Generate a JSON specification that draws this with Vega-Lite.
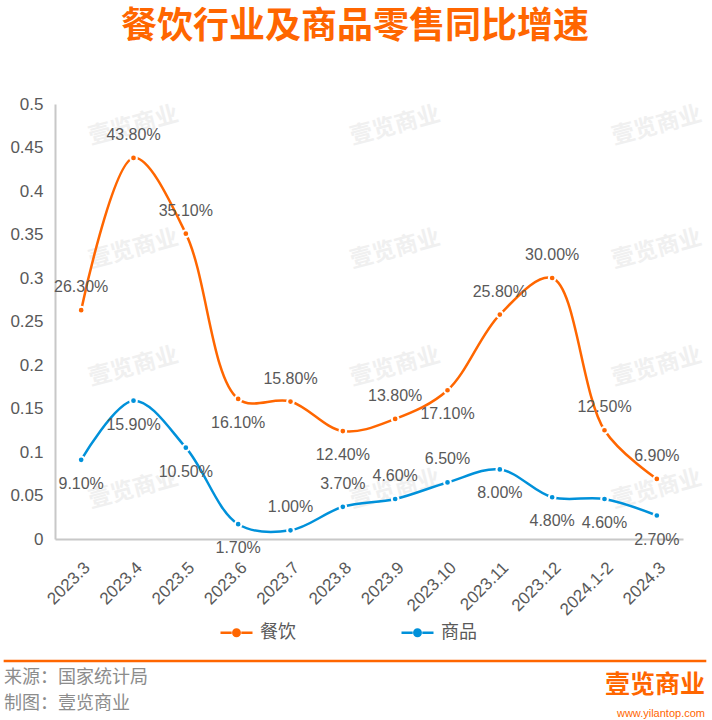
{
  "$schema": "https://vega.github.io/schema/vega-lite/v6.json",
  "background": "white",
  "padding": {"left": 2, "top": 9, "right": 4, "bottom": 0},
  "title": {"text": "餐饮行业及商品零售同比增速", "fontSize": 36, "fontWeight": "bold", "font": "Noto Sans CJK SC", "color": "#FF6600", "anchor": "middle", "offset": 49},
  "config": {"view": {"stroke": null}, "font": "Liberation Sans"},
  "spacing": 41,
  "datasets": {
    "sales": [
      {"month": "2023.3", "series": "餐饮", "value": 0.263},
      {"month": "2023.4", "series": "餐饮", "value": 0.438},
      {"month": "2023.5", "series": "餐饮", "value": 0.351},
      {"month": "2023.6", "series": "餐饮", "value": 0.161},
      {"month": "2023.7", "series": "餐饮", "value": 0.158},
      {"month": "2023.8", "series": "餐饮", "value": 0.124},
      {"month": "2023.9", "series": "餐饮", "value": 0.138},
      {"month": "2023.10", "series": "餐饮", "value": 0.171},
      {"month": "2023.11", "series": "餐饮", "value": 0.258},
      {"month": "2023.12", "series": "餐饮", "value": 0.300},
      {"month": "2024.1-2", "series": "餐饮", "value": 0.125},
      {"month": "2024.3", "series": "餐饮", "value": 0.069},
      {"month": "2023.3", "series": "商品", "value": 0.091},
      {"month": "2023.4", "series": "商品", "value": 0.159},
      {"month": "2023.5", "series": "商品", "value": 0.105},
      {"month": "2023.6", "series": "商品", "value": 0.017},
      {"month": "2023.7", "series": "商品", "value": 0.010},
      {"month": "2023.8", "series": "商品", "value": 0.037},
      {"month": "2023.9", "series": "商品", "value": 0.046},
      {"month": "2023.10", "series": "商品", "value": 0.065},
      {"month": "2023.11", "series": "商品", "value": 0.080},
      {"month": "2023.12", "series": "商品", "value": 0.048},
      {"month": "2024.1-2", "series": "商品", "value": 0.046},
      {"month": "2024.3", "series": "商品", "value": 0.027}
    ],
    "watermarks": [
      {"month": "2023.4", "value": 0.475}, {"month": "2023.9", "value": 0.475}, {"month": "2024.3", "value": 0.475},
      {"month": "2023.4", "value": 0.333}, {"month": "2023.9", "value": 0.333}, {"month": "2024.3", "value": 0.333},
      {"month": "2023.4", "value": 0.198}, {"month": "2023.9", "value": 0.198}, {"month": "2024.3", "value": 0.198},
      {"month": "2023.4", "value": 0.057}, {"month": "2023.9", "value": 0.057}, {"month": "2024.3", "value": 0.057}
    ]
  },
  "vconcat": [
    {
      "width": 628,
      "height": 435,
      "encoding": {
        "x": {
          "field": "month", "type": "ordinal",
          "scale": {"domain": ["2023.3","2023.4","2023.5","2023.6","2023.7","2023.8","2023.9","2023.10","2023.11","2023.12","2024.1-2","2024.3"]},
          "axis": {"title": null, "labelAngle": -45, "labelFontSize": 17, "labelColor": "#595959", "labelPadding": 20, "ticks": false, "domainColor": "#c8c8c8", "domainWidth": 2, "grid": false}
        },
        "y": {
          "field": "value", "type": "quantitative",
          "scale": {"domain": [0, 0.5], "nice": false},
          "axis": {"title": null, "values": [0, 0.05, 0.1, 0.15, 0.2, 0.25, 0.3, 0.35, 0.4, 0.45, 0.5], "format": "~g", "labelFontSize": 17, "labelColor": "#595959", "labelPadding": 12, "ticks": false, "domainColor": "#c8c8c8", "domainWidth": 2, "grid": false}
        }
      },
      "layer": [
        {
          "data": {"name": "watermarks"},
          "mark": {"type": "text", "angle": -15, "fontSize": 23, "fontWeight": "bold", "font": "Noto Sans CJK SC", "color": "#f0f0f0"},
          "encoding": {"text": {"value": "壹览商业"}}
        },
        {
          "data": {"name": "sales"},
          "mark": {"type": "line", "interpolate": "catmull-rom", "strokeWidth": 2.5},
          "encoding": {
            "color": {
              "field": "series", "type": "nominal",
              "scale": {"domain": ["餐饮", "商品"], "range": ["#FF6600", "#0091DA"]},
              "legend": {
                "orient": "none", "legendX": 164, "legendY": 511, "direction": "horizontal", "title": null,
                "symbolType": "M-1,0H-0.3M0.3,0H1M-0.2,0A0.2,0.2 0 1,0 0.2,0A0.2,0.2 0 1,0 -0.2,0Z",
                "symbolSize": 1024, "symbolStrokeWidth": 2.5,
                "labelFontSize": 18, "labelFont": "Noto Sans CJK SC", "labelColor": "#595959", "labelOffset": 6,
                "columnPadding": 100,
                "encode": {"symbols": {"update": {"fill": {"signal": "datum.value === '餐饮' ? '#FF6600' : '#0091DA'"}, "stroke": {"signal": "datum.value === '餐饮' ? '#FF6600' : '#0091DA'"}}}}
              }
            }
          }
        },
        {
          "data": {"name": "sales"},
          "mark": {"type": "point", "filled": true, "size": 45, "stroke": "white", "strokeWidth": 2, "opacity": 1},
          "encoding": {"color": {"field": "series", "type": "nominal"}}
        },
        {
          "data": {"name": "sales"},
          "transform": [{"filter": "(datum.series === '餐饮' && indexof(['2023.6','2023.8','2023.10'], datum.month) < 0) || (datum.series === '商品' && indexof(['2023.7','2023.8','2023.9','2023.10'], datum.month) >= 0)"}],
          "mark": {"type": "text", "dy": -23, "fontSize": 16, "color": "#595959", "baseline": "middle"},
          "encoding": {"text": {"field": "value", "type": "quantitative", "format": ".2%"}}
        },
        {
          "data": {"name": "sales"},
          "transform": [{"filter": "!((datum.series === '餐饮' && indexof(['2023.6','2023.8','2023.10'], datum.month) < 0) || (datum.series === '商品' && indexof(['2023.7','2023.8','2023.9','2023.10'], datum.month) >= 0))"}],
          "mark": {"type": "text", "dy": 24, "fontSize": 16, "color": "#595959", "baseline": "middle"},
          "encoding": {"text": {"field": "value", "type": "quantitative", "format": ".2%"}}
        }
      ]
    },
    {
      "width": 650,
      "height": 58,
      "data": {"values": [{"source": "来源：国家统计局", "maker": "制图：壹览商业", "brand": "壹览商业", "site": "www.yilantop.com"}]},
      "encoding": {
        "x": {"datum": 0, "type": "quantitative", "scale": {"domain": [0, 1], "nice": false}, "axis": null},
        "y": {"datum": 0, "type": "quantitative", "scale": {"domain": [0, 1], "reverse": true}, "axis": null}
      },
      "layer": [
        {"mark": {"type": "rule", "color": "#FF6600", "strokeWidth": 2.5}, "encoding": {"x": {"datum": -0.079}, "x2": {"datum": 1.002}}},
        {"mark": {"type": "text", "align": "left", "baseline": "middle", "dx": -51, "fontSize": 18, "font": "Noto Sans CJK SC", "color": "#8c8c8c"}, "encoding": {"y": {"datum": 0.29}, "text": {"field": "source"}}},
        {"mark": {"type": "text", "align": "left", "baseline": "middle", "dx": -51, "fontSize": 18, "font": "Noto Sans CJK SC", "color": "#8c8c8c"}, "encoding": {"y": {"datum": 0.74}, "text": {"field": "maker"}}},
        {"mark": {"type": "text", "align": "right", "baseline": "middle", "fontSize": 25, "fontWeight": "bold", "font": "Noto Sans CJK SC", "color": "#FF6600"}, "encoding": {"x": {"datum": 1}, "y": {"datum": 0.42}, "text": {"field": "brand"}}},
        {"mark": {"type": "text", "align": "right", "baseline": "middle", "fontSize": 11, "color": "#FF6600"}, "encoding": {"x": {"datum": 1}, "y": {"datum": 0.91}, "text": {"field": "site"}}}
      ]
    }
  ]
}
